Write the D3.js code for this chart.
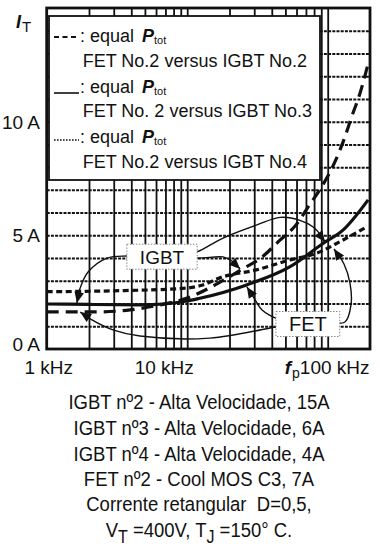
<!DOCTYPE html>
<html><head><meta charset="utf-8">
<script src="https://cdn.jsdelivr.net/npm/d3@7"></script>
<style>
html,body{margin:0;padding:0;background:#fff;}
svg{display:block;font-family:"Liberation Sans",Arial,Helvetica,sans-serif;}
</style></head><body>
<svg id="c" width="380" height="549"></svg>
<script>
// ---------------- data ----------------
const freqIGBT2 = [1, 2.28, 3.92, 6.4, 10, 15.8, 24.4, 33.9, 44.5, 59.5, 72.8, 90.6, 112.7, 132.8, 148.2, 169.8, 187.4, 193];
const currIGBT2 = [1.63, 1.63, 1.72, 1.94, 2.24, 2.82, 3.5, 4.03, 4.72, 5.46, 6.26, 7.14, 8.24, 9.34, 10.22, 11.25, 12.2, 12.5];
const freqIGBT3 = [1, 2, 4.6, 10, 12.3, 26.5, 54, 93, 129, 194];
const currIGBT3 = [1.98, 1.96, 1.94, 2.11, 2.23, 2.82, 3.62, 4.65, 5.24, 6.56];
const freqIGBT4 = [1, 3, 10, 12.3, 18, 31, 54, 83, 122, 190];
const currIGBT4 = [2.52, 2.56, 2.68, 2.78, 3.18, 3.48, 3.92, 4.21, 4.72, 5.38];

const gridFreqs = [2,3,4,5,6,7,8,9,10,20,30,40,50,60,70,80,90,100];
const gridCurrents = [1,2,3,4,5,6,7,8,9,10,11,12,13,14];
const yTickValues = [10, 5, 0];
const yTickLabels = ["10 A", "5 A", "0 A"];
const xTickValues = [1, 10, 100];
const xTickLabels = ["1 kHz", "10 kHz", "100 kHz"];
const legendTitles = ["FET No.2 versus IGBT No.2", "FET No. 2 versus IGBT No.3", "FET No.2 versus IGBT No.4"];
const captionLines = ["IGBT nº2 - Alta Velocidade, 15A", "IGBT nº3 - Alta Velocidade, 6A", "IGBT nº4 - Alta Velocidade, 4A", "FET nº2 - Cool MOS C3, 7A", "Corrente retangular  D=0,5,"];

// annotation labels (center, in kHz / A) and arrows (kHz / A)
const annIGBT = {label: "IGBT", f: 6.62, a: 4.06};
const annFET = {label: "FET", f: 72.2, a: 1.1};
const arrowsIGBT = [
  [[4.54,4.09],[3.73,4.09],[2.69,4.0],[1.97,3.39],[1.73,2.68],[1.64,2.02]],
  [[9.49,4.14],[11.7,4.0],[18.0,4.05],[20.8,3.87],[23.8,3.52]],
  [[9.49,4.14],[11.7,4.27],[18.0,4.88],[31.4,5.46],[45.8,5.79],[63.5,5.66],[81.2,5.3],[95.7,4.71]]
];
const arrowsFET = [
  [[44.3,1.36],[42.9,1.36],[34.1,1.72],[29.9,2.24],[26.6,2.73]],
  [[102,1.19],[132.8,1.19],[146.5,1.94],[144.1,2.9],[130.6,3.74],[110.9,4.4]],
  [[50.5,1.06],[42.2,0.97],[14.5,0.48],[4.61,0.57],[2.96,0.84],[2.1,1.28],[1.73,1.63]]
];

// ---------------- drawing ----------------
const svg = d3.select("#c");
const x = d3.scaleLog().domain([1, 200]).range([46.7, 370]);
const y = d3.scaleLinear().domain([0, 15]).range([349, 8]);
const ink = "#111";

// grid via axes
svg.append("g").attr("transform", `translate(0,${y(0)})`)
  .call(d3.axisBottom(x).tickValues(gridFreqs).tickSize(-(y(0) - y(15))).tickFormat(""))
  .call(g => g.select(".domain").remove())
  .call(g => g.selectAll("line").attr("stroke", ink).attr("stroke-width", 1.8));
svg.append("g").attr("transform", `translate(${x(1)},0)`)
  .call(d3.axisLeft(y).tickValues(gridCurrents).tickSize(-(x(200) - x(1))).tickFormat(""))
  .call(g => g.select(".domain").remove())
  .call(g => g.selectAll("line").attr("stroke", ink).attr("stroke-width", 2).attr("stroke-dasharray", "3,1.2"));

// clip
svg.append("clipPath").attr("id", "plotclip").append("rect")
  .attr("x", x(1)).attr("y", y(15)).attr("width", x(200) - x(1)).attr("height", y(0) - y(15));

const line = d3.line().x(d => x(d[0])).y(d => y(d[1])).curve(d3.curveMonotoneX);
const series = [
  {f: freqIGBT2, a: currIGBT2, dash: "12,7"},
  {f: freqIGBT3, a: currIGBT3, dash: null},
  {f: freqIGBT4, a: currIGBT4, dash: "6,3.5"}
];
const cg = svg.append("g").attr("clip-path", "url(#plotclip)");
series.forEach(s => {
  cg.append("path").datum(s.f.map((f, i) => [f, s.a[i]]))
    .attr("d", line).attr("fill", "none").attr("stroke", ink)
    .attr("stroke-width", 3.2).attr("stroke-dasharray", s.dash);
});

// legend box
const lg = svg.append("g");
lg.append("rect").attr("x", 49).attr("y", 16).attr("width", 271).attr("height", 164)
  .attr("fill", "#fff").attr("stroke", ink).attr("stroke-width", 1.8);
const legendSamples = [
  {dash: "5,3.5", yy: 37, w: 2.2},
  {dash: null, yy: 93, w: 1.6},
  {dash: "1.6,1.4", yy: 140, w: 1.6}
];
const rowBase = [[41.7, 66.7], [93.3, 117.3], [143.3, 168.3]];
legendTitles.forEach((t, i) => {
  const s = legendSamples[i];
  lg.append("line").attr("x1", 54).attr("x2", 79).attr("y1", s.yy).attr("y2", s.yy)
    .attr("stroke", ink).attr("stroke-width", s.w).attr("stroke-dasharray", s.dash);
  const t1 = lg.append("text").attr("x", 80).attr("y", rowBase[i][0]).attr("font-size", 18).attr("fill", ink);
  t1.append("tspan").text(": equal ");
  t1.append("tspan").attr("font-weight", "bold").attr("font-style", "italic").attr("dx", 3).text("P");
  t1.append("tspan").attr("font-size", 11).attr("dy", 2).text("tot");
  lg.append("text").attr("x", 82.7).attr("y", rowBase[i][1]).attr("font-size", 18).attr("fill", ink).text(t);
});

// annotation boxes + arrows
function annBox(ann, fs) {
  const cx = x(ann.f), cy = y(ann.a);
  const g = svg.append("g");
  const r = g.append("rect");
  const t = g.append("text").attr("x", cx).attr("y", cy).attr("dy", "0.36em")
    .attr("text-anchor", "middle").attr("font-size", fs).attr("fill", ink).text(ann.label);
  const w = t.node().getComputedTextLength();
  r.attr("x", cx - w / 2 - 13).attr("y", cy - 12.5).attr("width", w + 26).attr("height", 25)
    .attr("fill", "#fff").attr("stroke", "#888").attr("stroke-width", 1).attr("stroke-dasharray", "1.5,1.5");
  return g;
}
const ag = svg.append("g");
const aline = d3.line().x(d => x(d[0])).y(d => y(d[1])).curve(d3.curveCatmullRom.alpha(0.5));
function drawArrow(pts) {
  ag.append("path").datum(pts).attr("d", aline).attr("fill", "none")
    .attr("stroke", ink).attr("stroke-width", 1.4);
  const p1 = pts[pts.length - 2], p2 = pts[pts.length - 1];
  const x1 = x(p1[0]), y1 = y(p1[1]), x2 = x(p2[0]), y2 = y(p2[1]);
  const ang = Math.atan2(y2 - y1, x2 - x1);
  const L = 11, Wd = 4.8;
  const bx = x2 - L * Math.cos(ang), by = y2 - L * Math.sin(ang);
  const nx = -Math.sin(ang) * Wd, ny = Math.cos(ang) * Wd;
  ag.append("path").attr("d", `M${x2},${y2}L${bx + nx},${by + ny}L${bx - nx},${by - ny}Z`).attr("fill", ink);
}
annBox(annIGBT, 19);
annBox(annFET, 20);
arrowsIGBT.forEach(drawArrow);
arrowsFET.forEach(drawArrow);

// plot border
svg.append("rect").attr("x", x(1)).attr("y", y(15)).attr("width", x(200) - x(1)).attr("height", y(0) - y(15))
  .attr("fill", "none").attr("stroke", ink).attr("stroke-width", 2.8);

// y labels
yTickValues.forEach((v, i) => {
  svg.append("text").attr("x", 40).attr("y", Math.min(y(v) + 7, y(0) + 2))
    .attr("text-anchor", "end").attr("font-size", 19).attr("fill", ink).text(yTickLabels[i]);
});
const it = svg.append("text").attr("x", 16).attr("y", 27.5).attr("fill", ink);
it.append("tspan").attr("font-size", 18).attr("font-weight", "bold").attr("font-style", "italic").text("I");
it.append("tspan").attr("font-size", 15).attr("dy", 4.5).attr("dx", 1).text("T");

// x labels
svg.append("text").attr("x", x(xTickValues[0]) + 2).attr("y", 374.3).attr("text-anchor", "middle")
  .attr("font-size", 19).attr("fill", ink).text(xTickLabels[0]);
svg.append("text").attr("x", x(xTickValues[1]) - 23).attr("y", 374.3).attr("text-anchor", "middle")
  .attr("font-size", 19).attr("fill", ink).text(xTickLabels[1]);
const fl = svg.append("text").attr("x", x(xTickValues[2]) - 43).attr("y", 374.3).attr("fill", ink);
fl.append("tspan").attr("font-size", 19).attr("font-style", "italic").attr("font-weight", "bold").text("f");
fl.append("tspan").attr("font-size", 14).attr("dy", 4).attr("dx", 1).text("p");
fl.append("tspan").attr("font-size", 19).attr("dy", -4).text(xTickLabels[2]);

// caption
const capBase = [409.3, 435, 460.7, 485.5, 510.7];
captionLines.forEach((t, i) => {
  svg.append("text").attr("transform", `translate(199,${capBase[i]}) scale(1,1.13)`)
    .attr("text-anchor", "middle").attr("font-size", 18.5).attr("fill", ink)
    .style("white-space", "pre").text(t);
});
const c6 = svg.append("text").attr("transform", "translate(199,536.7) scale(1,1.13)")
  .attr("text-anchor", "middle").attr("font-size", 18.5).attr("fill", ink);
c6.append("tspan").text("V");
c6.append("tspan").attr("dy", 6).attr("font-size", 16).text("T");
c6.append("tspan").attr("dy", -6).text(" =400V, T");
c6.append("tspan").attr("dy", 6).attr("font-size", 16).text("J");
c6.append("tspan").attr("dy", -6).text(" =150° C.");
</script>
</body></html>
